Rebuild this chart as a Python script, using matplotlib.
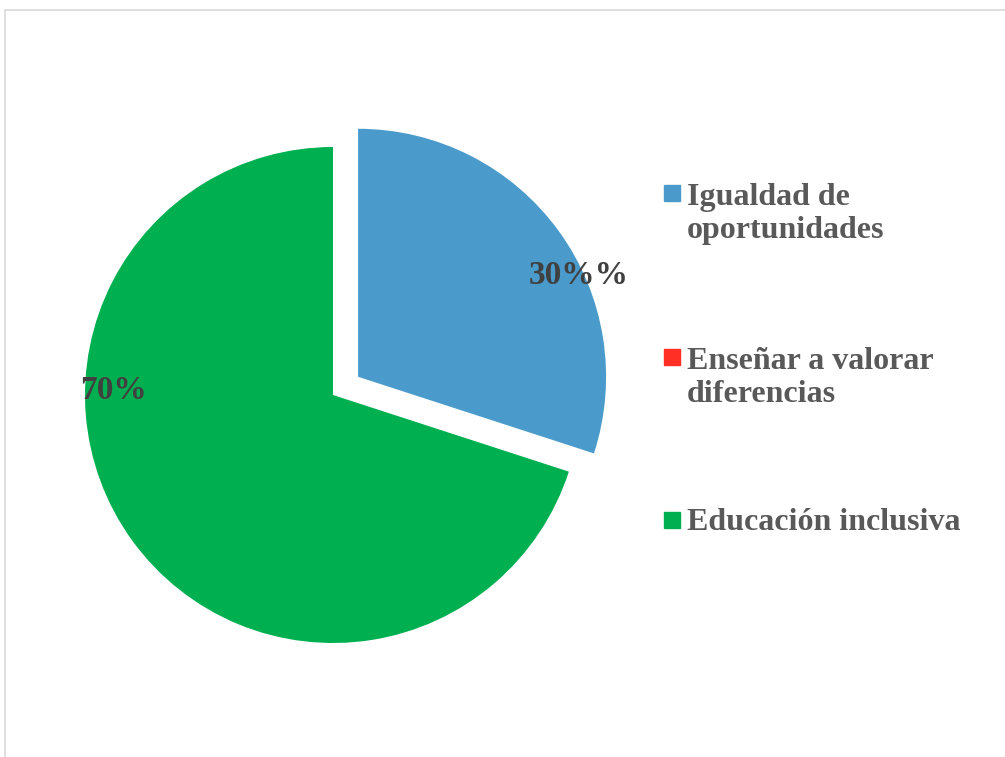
import matplotlib.pyplot as plt
from matplotlib.patches import Rectangle

# data
categories = ["Igualdad de\noportunidades", "Enseñar a valorar\ndiferencias", "Educación inclusiva"]
values = [30, 0, 70]
data_labels = ["30%%", "", "70%"]
colors = ["#4A9BCB", "#FF2F26", "#00B050"]

plt.rcParams['font.family'] = ['Liberation Serif', 'DejaVu Serif']
plt.rcParams['font.weight'] = 'bold'

W, H = 1005, 757
fig = plt.figure(figsize=(W / 100, H / 100), dpi=100)

# pie axes: center at px (333, 395), radius 248 px
r_px = 248
cx, cy = 333, 395
lim = 1.2
ax = fig.add_axes([(cx - lim * r_px) / W, (H - cy - lim * r_px) / H,
                   2 * lim * r_px / W, 2 * lim * r_px / H])

explode = [0.125, 0, 0]
wedges, _ = ax.pie(values, colors=colors, startangle=90, counterclock=False,
                   explode=explode, radius=1,
                   wedgeprops=dict(linewidth=0))
for w in wedges:
    w.set_clip_on(False)
# pie() resets the limits, so set them afterwards
ax.set_xlim(-lim, lim)
ax.set_ylim(-lim, lim)
ax.set_aspect('equal')
ax.axis('off')

# data labels (best-fit spots like the original)
label_pos = [(0.99, 0.48), None, (-0.887, 0.02)]
for lab, pos in zip(data_labels, label_pos):
    if lab and pos:
        ax.text(pos[0], pos[1], lab, ha='center', va='center',
                fontsize=24, fontweight='bold', color='#404040')

# legend drawn by hand to keep Excel-style spacing
legend_baselines = [203, 367, 530]   # baseline of first line, px from top
line_step = 35
for cat, col, yb in zip(categories, colors, legend_baselines):
    n_lines = cat.count("\n") + 1
    fig.patches.append(Rectangle((664 / W, (H - yb + 2) / H), 16 / W, 16 / H,
                                 transform=fig.transFigure, color=col))
    # va='baseline' anchors the last line for multi-line text
    y_last = yb + (n_lines - 1) * line_step
    fig.text(687 / W, (H - y_last) / H, cat, ha='left', va='baseline',
             fontsize=23, fontweight='bold', color='#595959', linespacing=1.2)

# chart border (right/bottom edges fall outside the image)
fig.patches.append(Rectangle((5 / W, -0.05), 1.1, (H - 10) / H + 0.05,
                             transform=fig.transFigure, fill=False,
                             edgecolor='#D9D9D9', linewidth=1.2))

fig.savefig('out.png', dpi=100)
